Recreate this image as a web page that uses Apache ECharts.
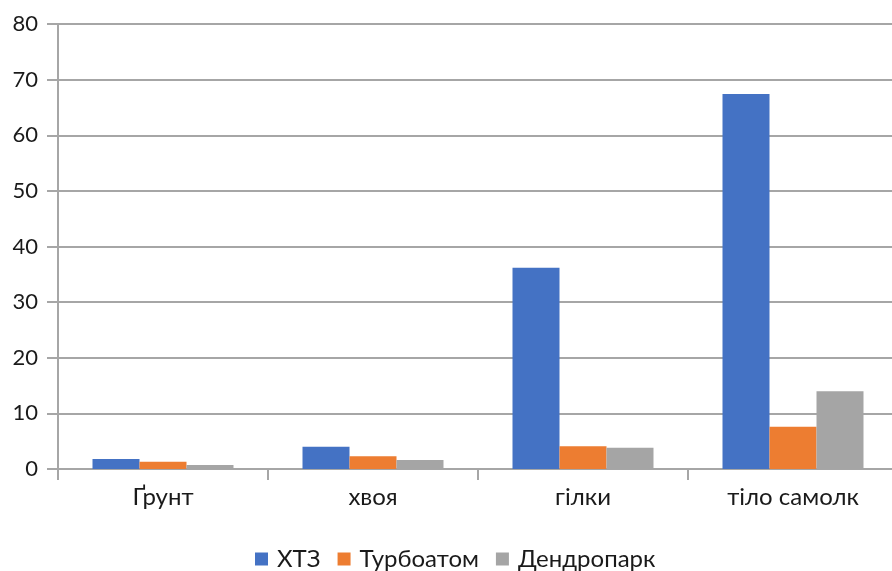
<!DOCTYPE html>
<html>
<head>
<meta charset="utf-8">
<script src="https://cdn.jsdelivr.net/npm/echarts@6/dist/echarts.min.js"></script>
<style>
  html, body { margin: 0; padding: 0; background: #fff; overflow: hidden; }
  /* plot area runs slightly past the right edge of the window */
  #chart { width: 898px; height: 571px; }
</style>
</head>
<body>
<div id="chart"></div>
<script>
// Categories and series values
const categories = ['Ґрунт', 'хвоя', 'гілки', 'тіло самолк'];
const seriesNames = ['ХТЗ', 'Турбоатом', 'Дендропарк'];
const valuesHTZ = [1.8, 4.0, 36.2, 67.4];
const valuesTurboatom = [1.3, 2.3, 4.1, 7.6];
const valuesDendropark = [0.7, 1.6, 3.8, 14.0];
const yTicks = { min: 0, max: 80, step: 10 };

const colors = ['#4472C4', '#ED7D31', '#A5A5A5'];
const axisGray = '#a6a6a6';
const textColor = '#1a1a1a';
const font = 'Lato, "Open Sans", sans-serif';

const chart = echarts.init(document.getElementById('chart'), null, { renderer: 'canvas' });

const seriesData = [valuesHTZ, valuesTurboatom, valuesDendropark];

chart.setOption({
  animation: false,
  color: colors,
  textStyle: { fontFamily: font },
  grid: { left: 58, top: 24, right: 0, bottom: 102, containLabel: false },
  legend: {
    top: 542,
    left: 250,
    icon: 'rect',
    itemWidth: 13,
    itemHeight: 13,
    itemGap: 17,
    data: seriesNames,
    textStyle: { fontFamily: font, fontSize: 24, color: textColor, padding: [0, 0, 0, 4] }
  },
  xAxis: {
    type: 'category',
    data: categories,
    axisLine: { show: true, lineStyle: { color: axisGray, width: 2 } },
    axisTick: { show: true, length: 11, alignWithLabel: false, lineStyle: { color: axisGray, width: 2 } },
    axisLabel: { fontFamily: font, fontSize: 24, color: textColor, margin: 16 },
    splitLine: { show: false }
  },
  yAxis: {
    type: 'value',
    min: yTicks.min,
    max: yTicks.max,
    interval: yTicks.step,
    axisLine: { show: true, lineStyle: { color: axisGray, width: 2 } },
    axisTick: { show: true, length: 11, lineStyle: { color: axisGray, width: 2 } },
    axisLabel: { fontFamily: font, fontSize: 22, color: textColor, margin: 20 },
    splitLine: { show: true, lineStyle: { color: axisGray, width: 2 } }
  },
  series: seriesNames.map((name, i) => ({
    name: name,
    type: 'bar',
    data: seriesData[i],
    barWidth: 47,
    barGap: '0%',
    itemStyle: { color: colors[i] }
  }))
});
</script>
</body>
</html>
